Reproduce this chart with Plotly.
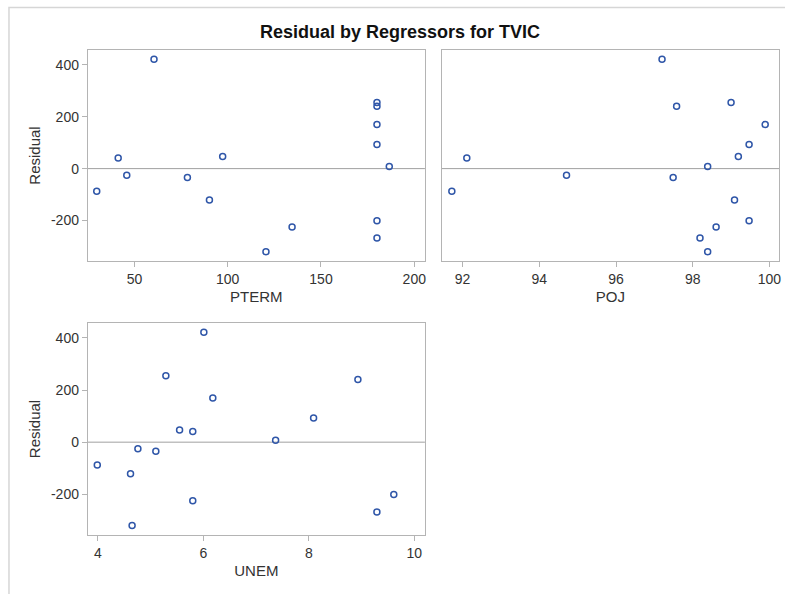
import plotly.graph_objects as go

W, H = 785, 594

residual = [-87.5, 41.2, -25.7, 421.8, -34.7, -120.9, 46.3, -320.0, -225.0,
            254.6, 240.5, 169.8, 92.6, -200.6, -267.5, 7.7]
pterm = [29.8, 41.3, 45.9, 60.5, 78.4, 90.2, 97.3, 120.5, 134.5,
         180.0, 180.0, 180.0, 180.0, 180.0, 180.0, 186.6]
poj = [91.72, 92.11, 94.71, 97.20, 97.49, 99.09, 99.19, 98.39, 98.61,
       99.00, 97.58, 99.89, 99.47, 99.47, 98.19, 98.39]
unem = [3.99, 5.80, 4.76, 6.01, 5.10, 4.62, 5.55, 4.65, 5.80,
        5.29, 8.93, 6.18, 8.09, 9.61, 9.29, 7.37]

title = "Residual by Regressors for TVIC"
x_titles = ["PTERM", "POJ", "UNEM"]
y_title = "Residual"
y_ticks = [-200, 0, 200, 400]
y_ticktext = ["-200", "0", "200", "400"]
x_ticks = [[50, 100, 150, 200], [92, 94, 96, 98, 100], [4, 6, 8, 10]]

FONT = "Liberation Sans, Arial, sans-serif"
MARK = "#2f56a8"
FRAME = "#b4b4b4"
TXT = "#333333"

def px_x(p):
    return p / W

def px_y(p):
    return 1 - p / H

fig = go.Figure()
xs = [pterm, poj, unem]
for i, xv in enumerate(xs):
    fig.add_trace(go.Scatter(
        x=xv, y=residual, mode="markers",
        xaxis="x" if i == 0 else f"x{i+1}",
        yaxis="y" if i == 0 else f"y{i+1}",
        marker=dict(symbol="circle-open", size=6, color=MARK, line=dict(width=1.5, color=MARK)),
        showlegend=False, hoverinfo="x+y"))

panels = [
    (88, 426, 50, 261),
    (443, 781, 50, 261),
    (88, 426, 323, 535),
]
xranges = [[25.0, 205.7], [91.46, 100.25], [3.81, 10.2]]
yrange = [-356, 457]

layout = dict(
    width=W, height=H,
    margin=dict(l=0, r=0, t=0, b=0),
    paper_bgcolor="white", plot_bgcolor="white",
    font=dict(family=FONT, color=TXT, size=14),
    showlegend=False,
)

for i, (l, r, t, b) in enumerate(panels):
    xk = "xaxis" if i == 0 else f"xaxis{i+1}"
    yk = "yaxis" if i == 0 else f"yaxis{i+1}"
    ya = "y" if i == 0 else f"y{i+1}"
    xa = "x" if i == 0 else f"x{i+1}"
    layout[xk] = dict(
        domain=[px_x(l), px_x(r)], anchor=ya, range=xranges[i],
        tickvals=x_ticks[i], ticks="outside", ticklen=5, tickcolor=FRAME,
        showline=True, linecolor=FRAME, linewidth=1, mirror=True,
        showgrid=False, zeroline=False,
        tickfont=dict(size=14, color=TXT, family=FONT),
        title=dict(text=x_titles[i], font=dict(size=15, color=TXT, family=FONT), standoff=5),
    )
    ydict = dict(
        domain=[px_y(b), px_y(t)], anchor=xa, range=yrange,
        tickvals=y_ticks, ticktext=y_ticktext, ticks="outside", ticklen=5, tickcolor=FRAME,
        showline=True, linecolor=FRAME, linewidth=1, mirror=True,
        showgrid=False, zeroline=False,
        tickfont=dict(size=14, color=TXT, family=FONT),
    )
    if i == 1:
        ydict.update(showticklabels=False, ticks="")
    else:
        ydict["title"] = dict(text=y_title, font=dict(size=15, color=TXT, family=FONT), standoff=6)
    layout[yk] = ydict

fig.update_layout(**layout)

# zero reference lines
for i in range(3):
    xa = "x" if i == 0 else f"x{i+1}"
    ya = "y" if i == 0 else f"y{i+1}"
    fig.add_shape(type="line", xref=f"{xa} domain", yref=ya, x0=0, x1=1, y0=0, y1=0,
                  line=dict(color="#a0a0a0", width=1), layer="below")

# outer border
fig.add_shape(type="rect", xref="paper", yref="paper",
              x0=px_x(9), x1=1.05, y0=-0.05, y1=px_y(7.5),
              line=dict(color="#d6d6d6", width=1.5), layer="below")

fig.add_annotation(text="<b>" + title + "</b>", xref="paper", yref="paper",
                   x=px_x(401), y=px_y(32), showarrow=False,
                   font=dict(size=18, color="#111111", family=FONT),
                   xanchor="center", yanchor="middle")

fig.write_html("out.html",
               config={"displayModeBar": False},
               post_script="document.body.style.margin='0';document.body.style.overflow='hidden';")
